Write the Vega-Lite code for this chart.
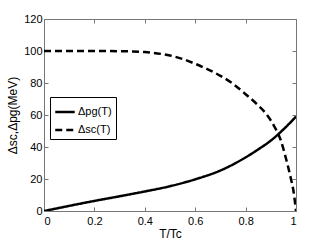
{
  "$schema": "https://vega.github.io/schema/vega-lite/v6.json",
  "autosize": "none",
  "width": 252,
  "height": 192,
  "padding": {"left": 44, "top": 19, "right": 31, "bottom": 35},
  "background": "white",
  "config": {
    "font": "Liberation Sans",
    "view": {"stroke": "#777", "strokeWidth": 1},
    "axis": {
      "domainColor": "#777",
      "tickColor": "#777",
      "grid": false,
      "labelFont": "Liberation Sans",
      "labelFontSize": 11,
      "labelColor": "#000",
      "titleFont": "Liberation Sans",
      "titleFontSize": 12,
      "titleFontWeight": "normal",
      "titleColor": "#000"
    }
  },
  "data": {
    "values": [
      {"t": 0.0, "v": 0.0, "s": "Δpg(T)"},
      {"t": 0.05, "v": 1.6, "s": "Δpg(T)"},
      {"t": 0.1, "v": 3.2, "s": "Δpg(T)"},
      {"t": 0.2, "v": 6.3, "s": "Δpg(T)"},
      {"t": 0.3, "v": 9.2, "s": "Δpg(T)"},
      {"t": 0.4, "v": 12.2, "s": "Δpg(T)"},
      {"t": 0.5, "v": 15.5, "s": "Δpg(T)"},
      {"t": 0.6, "v": 19.8, "s": "Δpg(T)"},
      {"t": 0.7, "v": 25.3, "s": "Δpg(T)"},
      {"t": 0.8, "v": 33.5, "s": "Δpg(T)"},
      {"t": 0.85, "v": 38.5, "s": "Δpg(T)"},
      {"t": 0.9, "v": 44.0, "s": "Δpg(T)"},
      {"t": 0.95, "v": 51.0, "s": "Δpg(T)"},
      {"t": 1.0, "v": 59.0, "s": "Δpg(T)"},
      {"t": 0.0, "v": 100.0, "s": "Δsc(T)"},
      {"t": 0.1, "v": 100.0, "s": "Δsc(T)"},
      {"t": 0.2, "v": 100.0, "s": "Δsc(T)"},
      {"t": 0.3, "v": 99.9, "s": "Δsc(T)"},
      {"t": 0.35, "v": 99.7, "s": "Δsc(T)"},
      {"t": 0.4, "v": 99.3, "s": "Δsc(T)"},
      {"t": 0.45, "v": 98.5, "s": "Δsc(T)"},
      {"t": 0.5, "v": 97.2, "s": "Δsc(T)"},
      {"t": 0.55, "v": 95.0, "s": "Δsc(T)"},
      {"t": 0.6, "v": 92.0, "s": "Δsc(T)"},
      {"t": 0.65, "v": 88.5, "s": "Δsc(T)"},
      {"t": 0.7, "v": 84.5, "s": "Δsc(T)"},
      {"t": 0.75, "v": 79.5, "s": "Δsc(T)"},
      {"t": 0.8, "v": 73.0, "s": "Δsc(T)"},
      {"t": 0.85, "v": 66.0, "s": "Δsc(T)"},
      {"t": 0.88, "v": 61.0, "s": "Δsc(T)"},
      {"t": 0.91, "v": 54.0, "s": "Δsc(T)"},
      {"t": 0.94, "v": 44.0, "s": "Δsc(T)"},
      {"t": 0.96, "v": 33.0, "s": "Δsc(T)"},
      {"t": 0.98, "v": 20.0, "s": "Δsc(T)"},
      {"t": 0.99, "v": 12.5, "s": "Δsc(T)"},
      {"t": 1.0, "v": 0.0, "s": "Δsc(T)"}
    ]
  },
  "layer": [
    {
      "mark": {"type": "line", "strokeWidth": 2.5, "color": "#000", "clip": true, "interpolate": "monotone"},
      "encoding": {
        "x": {"field": "t", "type": "quantitative", "scale": {"domain": [0, 1], "nice": false},
          "axis": {"values": [0, 0.2, 0.4, 0.6, 0.8, 1], "tickSize": -4, "labelPadding": 8, "title": "T/Tc", "titlePadding": 2, "format": "~g"}},
        "y": {"field": "v", "type": "quantitative", "scale": {"domain": [0, 120], "nice": false},
          "axis": {"values": [0, 20, 40, 60, 80, 100, 120], "tickSize": -4, "labelPadding": 6, "title": "Δsc,Δpg(MeV)", "titlePadding": 4}},
        "strokeDash": {"field": "s", "type": "nominal",
          "scale": {"domain": ["Δpg(T)", "Δsc(T)"], "range": [[1, 0], [7, 4]]},
          "legend": {"orient": "none", "legendX": 6, "legendY": 78, "title": null,
            "strokeColor": "#000", "padding": 4, "symbolType": "stroke", "symbolSize": 380,
            "symbolStrokeWidth": 2.5, "symbolStrokeColor": "#000", "labelFontSize": 11, "labelFont": "Liberation Sans", "labelOffset": 2, "rowPadding": 2}}
      }
    },
    {
      "mark": {"type": "line", "opacity": 0},
      "encoding": {
        "x": {"field": "t", "type": "quantitative", "scale": {"domain": [0, 1], "nice": false},
          "axis": {"orient": "top", "values": [0, 0.2, 0.4, 0.6, 0.8, 1], "tickSize": -4, "labels": false, "title": null}},
        "y": {"field": "v", "type": "quantitative", "scale": {"domain": [0, 120], "nice": false},
          "axis": {"orient": "right", "values": [0, 20, 40, 60, 80, 100, 120], "tickSize": -4, "labels": false, "title": null}}
      }
    }
  ],
  "resolve": {"axis": {"x": "independent", "y": "independent"}}
}
